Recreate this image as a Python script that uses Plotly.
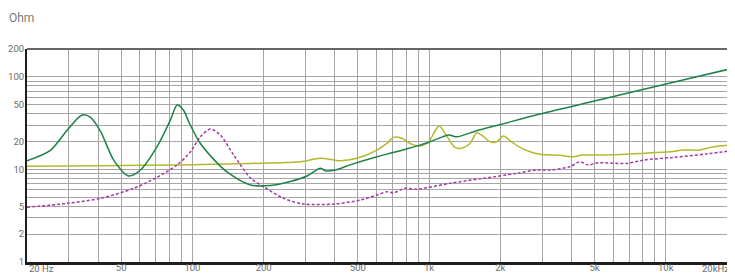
import math
import plotly.graph_objects as go

# ---- data (frequency in Hz, impedance in Ohm) ----
green_f = [20, 25.2, 29.6, 34.2, 37.1, 41.0, 46.5, 53.7, 60.3, 70.9, 80.7, 86.2, 91.6, 96.2, 107,
           125, 140, 175.8, 213, 259, 305, 347, 364, 401, 464, 602, 705, 815, 916, 1010, 1214,
           1309, 1589, 1993, 2940, 5267, 11460, 20000]
green_v = [12.4, 16.2, 26.7, 38.7, 36.5, 25.5, 12.6, 8.5, 9.85, 17.6, 34.1, 49.6, 43.8, 33.3, 19.8,
           12.3, 9.4, 6.8, 6.7, 7.4, 8.5, 10.3, 9.7, 9.85, 11.2, 13.7, 15.2, 16.8, 18.3, 19.9, 23.5,
           22.5, 26.2, 30.5, 39.7, 56.5, 90.8, 127]

yellow_f = [20, 40.9, 89, 176, 285.6, 347, 421, 495.5, 602, 663, 707, 767, 831, 916, 997, 1060,
            1105, 1168, 1287, 1374, 1489, 1590, 1669, 1809, 1931, 2059, 2233, 2421, 2668, 2940,
            3570, 4000, 4465, 5267, 7770, 10700, 11800, 13920, 15340, 16900, 18270, 19170, 20000]
yellow_v = [10.8, 10.96, 11.2, 11.6, 12.1, 13.2, 12.4, 13.2, 16.2, 19.1, 22.2, 21.7, 19.1, 17.9,
            19.9, 26.2, 29.4, 24.5, 17.3, 16.9, 19.1, 24.9, 23.5, 19.9, 19.9, 22.9, 19.9, 17.3,
            15.5, 14.6, 14.2, 13.7, 14.3, 14.3, 14.9, 15.6, 16.2, 16.2, 17.2, 17.9, 18.3, 19.9, 19.3]

purple_f = [20, 29.6, 40.9, 56.5, 70.9, 86.2, 98.1, 108, 119, 131.2, 149.4, 175.8, 200, 242.7,
            294.9, 394.7, 511.7, 602, 663, 707, 792, 887, 1226, 1695, 2344, 2847, 3240, 3935,
            4336, 4700, 5180, 6828, 8021, 10735, 14850, 20000]
purple_v = [3.9, 4.3, 4.87, 6.25, 8.22, 11.2, 15.5, 22.5, 27.3, 23.5, 14.3, 8.1, 6.5, 4.87, 4.23,
            4.23, 4.67, 5.29, 5.74, 5.6, 6.25, 6.1, 7.08, 8.01, 9.08, 9.85, 9.85, 10.7, 12.1, 11.2,
            11.8, 11.6, 12.6, 13.5, 14.7, 16.2]

# ---- axes ----
x_grid = [20, 30, 40, 50, 60, 70, 80, 90, 100, 200, 300, 400, 500, 600, 700, 800, 900,
          1000, 2000, 3000, 4000, 5000, 6000, 7000, 8000, 9000, 10000, 20000]
x_labels = {50: "50", 100: "100", 200: "200", 500: "500", 1000: "1k", 2000: "2k",
            5000: "5k", 10000: "10k"}
x_first_label = "20 Hz"
x_last_label = "20kHz"

y_grid = [1, 2, 3, 4, 5, 6, 7, 8, 9, 10, 20, 30, 40, 50, 60, 70, 80, 90, 100, 200]
y_labels = {1: "1", 2: "2", 4: "5", 10: "10", 20: "20", 50: "50", 100: "100", 200: "200"}
y_title = "Ohm"

x_min, x_max = 20, 20000
y_min, y_max = 1, 200

fig = go.Figure()
fig.add_trace(go.Scatter(x=yellow_f, y=yellow_v, mode="lines",
                         line=dict(color="#b3b92a", width=1.5, shape="spline", smoothing=0.8)))
fig.add_trace(go.Scatter(x=purple_f, y=purple_v, mode="lines",
                         line=dict(color="#a43aa4", width=1.5, dash="3px,2px",
                                   shape="spline", smoothing=0.8)))
fig.add_trace(go.Scatter(x=green_f, y=green_v, mode="lines",
                         line=dict(color="#1d8149", width=1.5, shape="spline", smoothing=0.8)))

tickfont = dict(family="Roboto, Open Sans, sans-serif", size=9.5, color="#6a6a6a")
grid_col = "#a6a6a6"

# The page body has an 8px margin, so the figure is sized to end at the window edge.
fig.update_layout(
    template="none",
    width=735, height=265,
    margin=dict(l=19, r=6, t=41, b=11),
    paper_bgcolor="white", plot_bgcolor="white",
    showlegend=False,
    xaxis=dict(type="log", range=[math.log10(x_min), math.log10(x_max)],
               tickmode="array", tickvals=x_grid,
               ticktext=[x_labels.get(v, "") for v in x_grid],
               showgrid=True, gridcolor=grid_col, gridwidth=1,
               showline=True, linecolor="#1e1e1e", linewidth=3, ticks="",
               tickfont=tickfont, automargin=False, zeroline=False,
               ticklabelstandoff=-5),
    yaxis=dict(type="log", range=[math.log10(y_min), math.log10(y_max)],
               tickmode="array", tickvals=y_grid,
               ticktext=[y_labels.get(v, "") for v in y_grid],
               showgrid=True, gridcolor=grid_col, gridwidth=1,
               showline=True, linecolor="#1e1e1e", linewidth=2, ticks="",
               tickfont=tickfont, automargin=False, zeroline=False,
               ticklabelstandoff=-1),
    shapes=[dict(type="line", xref="paper", yref="paper", x0=0, x1=1, y0=1, y1=1,
                 line=dict(color="#333333", width=1.5))],
    annotations=[
        dict(text=y_title, xref="paper", yref="paper", x=0, y=1, xanchor="left",
             yanchor="middle", xshift=-20, yshift=31, showarrow=False,
             font=dict(family="Roboto, Open Sans, sans-serif", size=12, color="#7a7a7a")),
        dict(text=x_first_label, xref="paper", yref="paper", x=0, y=0, xanchor="left",
             yanchor="top", xshift=1, yshift=0, borderpad=0, showarrow=False, font=tickfont),
        dict(text=x_last_label, xref="paper", yref="paper", x=1, y=0, xanchor="right",
             yanchor="top", xshift=-7, yshift=0, borderpad=0, showarrow=False, font=tickfont),
    ],
)

fig.write_html("out.html")
